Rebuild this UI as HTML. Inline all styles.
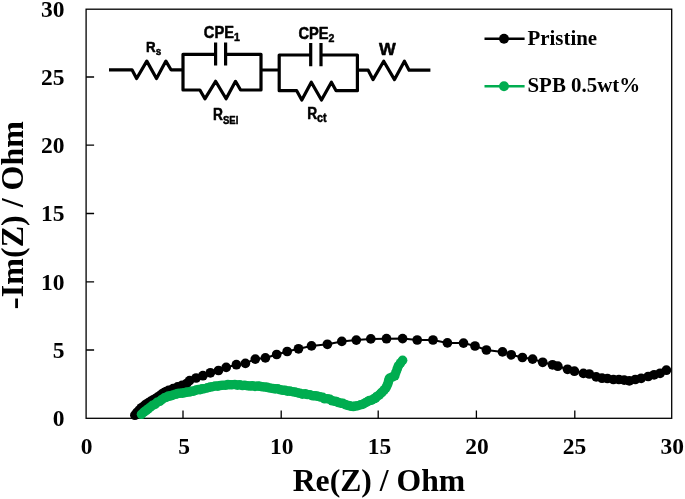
<!DOCTYPE html>
<html lang="en"><head><meta charset="utf-8"><title>EIS Nyquist plot</title>
<style>html,body{margin:0;padding:0;background:#fff}body{width:685px;height:499px;overflow:hidden}svg{display:block}</style>
</head><body>
<svg width="685" height="499" viewBox="0 0 685 499">
<rect width="685" height="499" fill="#fff"/>
<rect x="86.1" y="9.2" width="585.6" height="409.1" fill="none" stroke="#000" stroke-width="1.3"/>
<path d="M183.00 418.3 v-7.8 M281.20 418.3 v-7.8 M378.20 418.3 v-7.8 M476.40 418.3 v-7.8 M574.80 418.3 v-7.8 M86.1 350.00 h8 M86.1 281.80 h8 M86.1 213.50 h8 M86.1 145.20 h8 M86.1 77.00 h8" stroke="#000" stroke-width="1.3" fill="none"/>
<g font-family="'Liberation Serif', serif" font-weight="bold" font-size="23.5" fill="#000">
<text x="86.6" y="453.5" text-anchor="middle">0</text>
<text x="184.2" y="453.5" text-anchor="middle">5</text>
<text x="281.8" y="453.5" text-anchor="middle">10</text>
<text x="379.4" y="453.5" text-anchor="middle">15</text>
<text x="477.0" y="453.5" text-anchor="middle">20</text>
<text x="574.6" y="453.5" text-anchor="middle">25</text>
<text x="672.2" y="453.5" text-anchor="middle">30</text>
<text x="64.6" y="425.9" text-anchor="end">0</text>
<text x="64.6" y="357.7" text-anchor="end">5</text>
<text x="64.6" y="289.5" text-anchor="end">10</text>
<text x="64.6" y="221.3" text-anchor="end">15</text>
<text x="64.6" y="153.2" text-anchor="end">20</text>
<text x="64.6" y="85.0" text-anchor="end">25</text>
<text x="64.6" y="16.8" text-anchor="end">30</text>
</g>
<g font-family="'Liberation Serif', serif" font-weight="bold" fill="#000">
<text x="379" y="491" font-size="31.7" text-anchor="middle">Re(Z) / Ohm</text>
<text transform="translate(23.2,215.3) rotate(-90)" font-size="32" text-anchor="middle"><tspan font-weight="normal" font-size="37" dy="3">-</tspan><tspan dy="-3">Im(Z) / Ohm</tspan></text>
</g>
<polyline points="134.9,415.2 137.0,412.5 139.2,410.1 141.5,407.8 143.8,406.1 146.0,404.3 148.3,402.9 150.6,401.4 152.8,400.1 155.1,398.9 157.3,397.4 159.6,395.9 161.8,394.2 164.1,392.6 166.3,391.5 168.6,390.4 173.1,388.7 177.6,386.9 182.2,385.3 186.7,383.5 189.6,380.6 196.1,378.0 202.9,375.7 210.4,372.8 218.5,370.5 226.2,367.4 236.4,364.7 245.4,363.4 255.3,359.1 265.4,357.9 276.7,354.5 287.2,351.5 298.5,348.8 311.5,345.9 327.4,344.3 341.8,341.4 356.3,340.1 370.8,338.9 386.5,338.7 402.6,338.6 417.2,340.0 433.0,340.0 447.4,342.9 463.5,343.1 475.0,346.0 486.4,350.0 502.5,351.9 511.2,354.8 522.4,357.5 532.6,359.1 542.7,362.3 552.5,364.8 557.8,366.2 567.5,369.3 574.4,371.2 583.4,373.4 589.3,374.0 596.2,376.9 602.0,378.2 607.4,378.5 613.4,379.5 618.9,379.5 624.2,380.1 629.3,380.8 635.3,379.5 641.2,378.3 648.2,376.5 654.1,374.8 660.1,373.3 666.4,370.2" fill="none" stroke="#000" stroke-width="2"/>
<g fill="#000"><circle cx="134.9" cy="415.2" r="4.85"/><circle cx="137.0" cy="412.5" r="4.85"/><circle cx="139.2" cy="410.1" r="4.85"/><circle cx="141.5" cy="407.8" r="4.85"/><circle cx="143.8" cy="406.1" r="4.85"/><circle cx="146.0" cy="404.3" r="4.85"/><circle cx="148.3" cy="402.9" r="4.85"/><circle cx="150.6" cy="401.4" r="4.85"/><circle cx="152.8" cy="400.1" r="4.85"/><circle cx="155.1" cy="398.9" r="4.85"/><circle cx="157.3" cy="397.4" r="4.85"/><circle cx="159.6" cy="395.9" r="4.85"/><circle cx="161.8" cy="394.2" r="4.85"/><circle cx="164.1" cy="392.6" r="4.85"/><circle cx="166.3" cy="391.5" r="4.85"/><circle cx="168.6" cy="390.4" r="4.85"/><circle cx="173.1" cy="388.7" r="4.85"/><circle cx="177.6" cy="386.9" r="4.85"/><circle cx="182.2" cy="385.3" r="4.85"/><circle cx="186.7" cy="383.5" r="4.85"/><circle cx="189.6" cy="380.6" r="4.85"/><circle cx="196.1" cy="378.0" r="4.85"/><circle cx="202.9" cy="375.7" r="4.85"/><circle cx="210.4" cy="372.8" r="4.85"/><circle cx="218.5" cy="370.5" r="4.85"/><circle cx="226.2" cy="367.4" r="4.85"/><circle cx="236.4" cy="364.7" r="4.85"/><circle cx="245.4" cy="363.4" r="4.85"/><circle cx="255.3" cy="359.1" r="4.85"/><circle cx="265.4" cy="357.9" r="4.85"/><circle cx="276.7" cy="354.5" r="4.85"/><circle cx="287.2" cy="351.5" r="4.85"/><circle cx="298.5" cy="348.8" r="4.85"/><circle cx="311.5" cy="345.9" r="4.85"/><circle cx="327.4" cy="344.3" r="4.85"/><circle cx="341.8" cy="341.4" r="4.85"/><circle cx="356.3" cy="340.1" r="4.85"/><circle cx="370.8" cy="338.9" r="4.85"/><circle cx="386.5" cy="338.7" r="4.85"/><circle cx="402.6" cy="338.6" r="4.85"/><circle cx="417.2" cy="340.0" r="4.85"/><circle cx="433.0" cy="340.0" r="4.85"/><circle cx="447.4" cy="342.9" r="4.85"/><circle cx="463.5" cy="343.1" r="4.85"/><circle cx="475.0" cy="346.0" r="4.85"/><circle cx="486.4" cy="350.0" r="4.85"/><circle cx="502.5" cy="351.9" r="4.85"/><circle cx="511.2" cy="354.8" r="4.85"/><circle cx="522.4" cy="357.5" r="4.85"/><circle cx="532.6" cy="359.1" r="4.85"/><circle cx="542.7" cy="362.3" r="4.85"/><circle cx="552.5" cy="364.8" r="4.85"/><circle cx="557.8" cy="366.2" r="4.85"/><circle cx="567.5" cy="369.3" r="4.85"/><circle cx="574.4" cy="371.2" r="4.85"/><circle cx="583.4" cy="373.4" r="4.85"/><circle cx="589.3" cy="374.0" r="4.85"/><circle cx="596.2" cy="376.9" r="4.85"/><circle cx="602.0" cy="378.2" r="4.85"/><circle cx="607.4" cy="378.5" r="4.85"/><circle cx="613.4" cy="379.5" r="4.85"/><circle cx="618.9" cy="379.5" r="4.85"/><circle cx="624.2" cy="380.1" r="4.85"/><circle cx="629.3" cy="380.8" r="4.85"/><circle cx="635.3" cy="379.5" r="4.85"/><circle cx="641.2" cy="378.3" r="4.85"/><circle cx="648.2" cy="376.5" r="4.85"/><circle cx="654.1" cy="374.8" r="4.85"/><circle cx="660.1" cy="373.3" r="4.85"/><circle cx="666.4" cy="370.2" r="4.85"/></g>
<polyline points="141.5,414.3 143.9,412.1 146.1,410.5 148.0,409.0 150.3,407.2 152.5,405.3 155.0,404.4 157.1,402.3 159.7,401.3 161.9,399.5 164.4,397.8 166.6,397.1 168.4,396.1 170.7,395.9 172.9,395.0 175.4,394.3 177.6,393.6 179.6,393.3 182.3,393.1 184.3,392.8 186.7,392.1 189.2,392.0 191.1,391.4 193.6,391.1 196.1,390.1 198.4,389.5 200.1,389.6 202.1,388.9 204.2,388.7 207.3,387.9 210.0,387.1 212.5,386.7 215.1,386.0 217.9,386.1 220.3,385.5 222.7,385.2 225.4,385.3 227.9,384.5 229.9,384.8 232.2,384.7 234.8,384.5 237.3,385.1 239.8,384.8 242.5,385.5 244.7,385.3 247.6,385.8 250.3,386.0 252.4,385.8 255.0,386.4 257.9,386.0 259.8,386.3 262.3,386.8 265.1,387.0 267.3,387.4 270.0,388.0 273.0,388.5 275.2,388.9 277.8,388.8 280.5,389.8 283.0,390.3 285.1,390.4 287.4,391.1 289.9,391.1 292.5,391.7 295.1,392.1 297.4,392.7 299.9,393.3 302.3,394.1 305.2,393.9 307.4,394.5 310.0,394.7 312.8,395.8 315.0,395.8 317.2,396.1 319.9,396.9 322.7,397.4 324.7,398.8 327.5,398.7 330.0,399.3 332.2,400.8 334.6,401.2 336.3,401.5 338.4,402.5 340.8,403.2 342.8,403.3 345.3,404.6 347.4,405.2 349.5,405.8 351.1,406.2 353.3,406.5 355.3,406.0 357.8,405.7 360.5,404.8 363.0,404.2 365.5,402.7 367.5,401.6 369.4,400.5 371.6,400.2 373.7,398.8 375.5,398.1 376.8,396.5 379.1,395.1 380.8,393.4 382.1,392.2 384.1,390.0 385.8,388.1 386.9,385.8 387.9,383.6 388.6,381.0 389.4,378.3 392.2,377.0 394.8,375.8 395.9,372.3 397.2,369.0 398.4,365.9 400.5,363.0 402.6,360.3" fill="none" stroke="#00ad50" stroke-width="2"/>
<g fill="#00ad50"><circle cx="141.5" cy="414.3" r="4.8"/><circle cx="143.9" cy="412.1" r="4.8"/><circle cx="146.1" cy="410.5" r="4.8"/><circle cx="148.0" cy="409.0" r="4.8"/><circle cx="150.3" cy="407.2" r="4.8"/><circle cx="152.5" cy="405.3" r="4.8"/><circle cx="155.0" cy="404.4" r="4.8"/><circle cx="157.1" cy="402.3" r="4.8"/><circle cx="159.7" cy="401.3" r="4.8"/><circle cx="161.9" cy="399.5" r="4.8"/><circle cx="164.4" cy="397.8" r="4.8"/><circle cx="166.6" cy="397.1" r="4.8"/><circle cx="168.4" cy="396.1" r="4.8"/><circle cx="170.7" cy="395.9" r="4.8"/><circle cx="172.9" cy="395.0" r="4.8"/><circle cx="175.4" cy="394.3" r="4.8"/><circle cx="177.6" cy="393.6" r="4.8"/><circle cx="179.6" cy="393.3" r="4.8"/><circle cx="182.3" cy="393.1" r="4.8"/><circle cx="184.3" cy="392.8" r="4.8"/><circle cx="186.7" cy="392.1" r="4.8"/><circle cx="189.2" cy="392.0" r="4.8"/><circle cx="191.1" cy="391.4" r="4.8"/><circle cx="193.6" cy="391.1" r="4.8"/><circle cx="196.1" cy="390.1" r="4.8"/><circle cx="198.4" cy="389.5" r="4.8"/><circle cx="200.1" cy="389.6" r="4.8"/><circle cx="202.1" cy="388.9" r="4.8"/><circle cx="204.2" cy="388.7" r="4.8"/><circle cx="207.3" cy="387.9" r="4.8"/><circle cx="210.0" cy="387.1" r="4.8"/><circle cx="212.5" cy="386.7" r="4.8"/><circle cx="215.1" cy="386.0" r="4.8"/><circle cx="217.9" cy="386.1" r="4.8"/><circle cx="220.3" cy="385.5" r="4.8"/><circle cx="222.7" cy="385.2" r="4.8"/><circle cx="225.4" cy="385.3" r="4.8"/><circle cx="227.9" cy="384.5" r="4.8"/><circle cx="229.9" cy="384.8" r="4.8"/><circle cx="232.2" cy="384.7" r="4.8"/><circle cx="234.8" cy="384.5" r="4.8"/><circle cx="237.3" cy="385.1" r="4.8"/><circle cx="239.8" cy="384.8" r="4.8"/><circle cx="242.5" cy="385.5" r="4.8"/><circle cx="244.7" cy="385.3" r="4.8"/><circle cx="247.6" cy="385.8" r="4.8"/><circle cx="250.3" cy="386.0" r="4.8"/><circle cx="252.4" cy="385.8" r="4.8"/><circle cx="255.0" cy="386.4" r="4.8"/><circle cx="257.9" cy="386.0" r="4.8"/><circle cx="259.8" cy="386.3" r="4.8"/><circle cx="262.3" cy="386.8" r="4.8"/><circle cx="265.1" cy="387.0" r="4.8"/><circle cx="267.3" cy="387.4" r="4.8"/><circle cx="270.0" cy="388.0" r="4.8"/><circle cx="273.0" cy="388.5" r="4.8"/><circle cx="275.2" cy="388.9" r="4.8"/><circle cx="277.8" cy="388.8" r="4.8"/><circle cx="280.5" cy="389.8" r="4.8"/><circle cx="283.0" cy="390.3" r="4.8"/><circle cx="285.1" cy="390.4" r="4.8"/><circle cx="287.4" cy="391.1" r="4.8"/><circle cx="289.9" cy="391.1" r="4.8"/><circle cx="292.5" cy="391.7" r="4.8"/><circle cx="295.1" cy="392.1" r="4.8"/><circle cx="297.4" cy="392.7" r="4.8"/><circle cx="299.9" cy="393.3" r="4.8"/><circle cx="302.3" cy="394.1" r="4.8"/><circle cx="305.2" cy="393.9" r="4.8"/><circle cx="307.4" cy="394.5" r="4.8"/><circle cx="310.0" cy="394.7" r="4.8"/><circle cx="312.8" cy="395.8" r="4.8"/><circle cx="315.0" cy="395.8" r="4.8"/><circle cx="317.2" cy="396.1" r="4.8"/><circle cx="319.9" cy="396.9" r="4.8"/><circle cx="322.7" cy="397.4" r="4.8"/><circle cx="324.7" cy="398.8" r="4.8"/><circle cx="327.5" cy="398.7" r="4.8"/><circle cx="330.0" cy="399.3" r="4.8"/><circle cx="332.2" cy="400.8" r="4.8"/><circle cx="334.6" cy="401.2" r="4.8"/><circle cx="336.3" cy="401.5" r="4.8"/><circle cx="338.4" cy="402.5" r="4.8"/><circle cx="340.8" cy="403.2" r="4.8"/><circle cx="342.8" cy="403.3" r="4.8"/><circle cx="345.3" cy="404.6" r="4.8"/><circle cx="347.4" cy="405.2" r="4.8"/><circle cx="349.5" cy="405.8" r="4.8"/><circle cx="351.1" cy="406.2" r="4.8"/><circle cx="353.3" cy="406.5" r="4.8"/><circle cx="355.3" cy="406.0" r="4.8"/><circle cx="357.8" cy="405.7" r="4.8"/><circle cx="360.5" cy="404.8" r="4.8"/><circle cx="363.0" cy="404.2" r="4.8"/><circle cx="365.5" cy="402.7" r="4.8"/><circle cx="367.5" cy="401.6" r="4.8"/><circle cx="369.4" cy="400.5" r="4.8"/><circle cx="371.6" cy="400.2" r="4.8"/><circle cx="373.7" cy="398.8" r="4.8"/><circle cx="375.5" cy="398.1" r="4.8"/><circle cx="376.8" cy="396.5" r="4.8"/><circle cx="379.1" cy="395.1" r="4.8"/><circle cx="380.8" cy="393.4" r="4.8"/><circle cx="382.1" cy="392.2" r="4.8"/><circle cx="384.1" cy="390.0" r="4.8"/><circle cx="385.8" cy="388.1" r="4.8"/><circle cx="386.9" cy="385.8" r="4.8"/><circle cx="387.9" cy="383.6" r="4.8"/><circle cx="388.6" cy="381.0" r="4.8"/><circle cx="389.4" cy="378.3" r="4.8"/><circle cx="392.2" cy="377.0" r="4.8"/><circle cx="394.8" cy="375.8" r="4.8"/><circle cx="395.9" cy="372.3" r="4.8"/><circle cx="397.2" cy="369.0" r="4.8"/><circle cx="398.4" cy="365.9" r="4.8"/><circle cx="400.5" cy="363.0" r="4.8"/><circle cx="402.6" cy="360.3" r="4.8"/></g>
<path d="M484.5 38.8 H524.6" stroke="#000" stroke-width="2.6"/><circle cx="504" cy="38.8" r="4.95" fill="#000"/>
<path d="M484.5 86.2 H524.6" stroke="#00ad50" stroke-width="2.6"/><circle cx="504" cy="86.2" r="4.95" fill="#00ad50"/>
<g font-family="'Liberation Serif', serif" font-weight="bold" font-size="20.9" fill="#000">
<text x="527.5" y="44.6">Pristine</text>
<text x="527.5" y="92.3">SPB 0.5wt%</text>
</g>
<path d="M109 69.8 H132 L136.6 78.5 L146.8 61.1 L156.5 78.5 L165.9 61.1 L171 69.8 H183 M215.6 54.3 H183 V90 H199.9 L204.9 98.8 L215.6 81.3 L226.1 98.8 L235.5 81.3 L240.6 90 H261 V54.3 H225.6 M215.6 42.5 V65.4 M225.6 42.5 V65.4 M261 70 H279.2 M310.7 55 H279.2 V90.7 H296.7 L301.8 100 L311.3 82.2 L321.5 100 L331.4 82.2 L336.1 90.7 H357.4 V55 H321 M310.7 43 V66.3 M321 43 V66.3 M357.4 70.2 H368.2 L373 79.6 L383.7 61.2 L394.5 79.6 L404.4 61.2 L409.1 70.2 H430.4" fill="none" stroke="#000" stroke-width="3.2" stroke-linejoin="round"/>
<g font-family="'Liberation Sans', sans-serif" font-weight="bold" fill="#000" stroke="#000" stroke-width="0.5" stroke-linejoin="round">
<text transform="translate(146,52.1) scale(0.89,1)" font-size="15">R<tspan font-size="11.2" dy="2.8">s</tspan></text>
<text transform="translate(203.8,38.4) scale(0.94,1)" font-size="15.6">CPE<tspan font-size="11.3" dy="2.6">1</tspan></text>
<text transform="translate(298.4,38.9) scale(0.94,1)" font-size="15.6">CPE<tspan font-size="11.3" dy="2.6">2</tspan></text>
<text transform="translate(379,54.6) scale(1.14,1)" font-size="15.6">W<tspan font-size="10.6" dy="2.6"></tspan></text>
<text transform="translate(213,120.4) scale(0.87,1)" font-size="15.8">R<tspan font-size="11" dy="3.2">SEI</tspan></text>
<text transform="translate(307.2,118.5) scale(0.87,1)" font-size="15.8">R<tspan font-size="12.4" dy="3.4">ct</tspan></text>
</g>
</svg>
</body></html>
